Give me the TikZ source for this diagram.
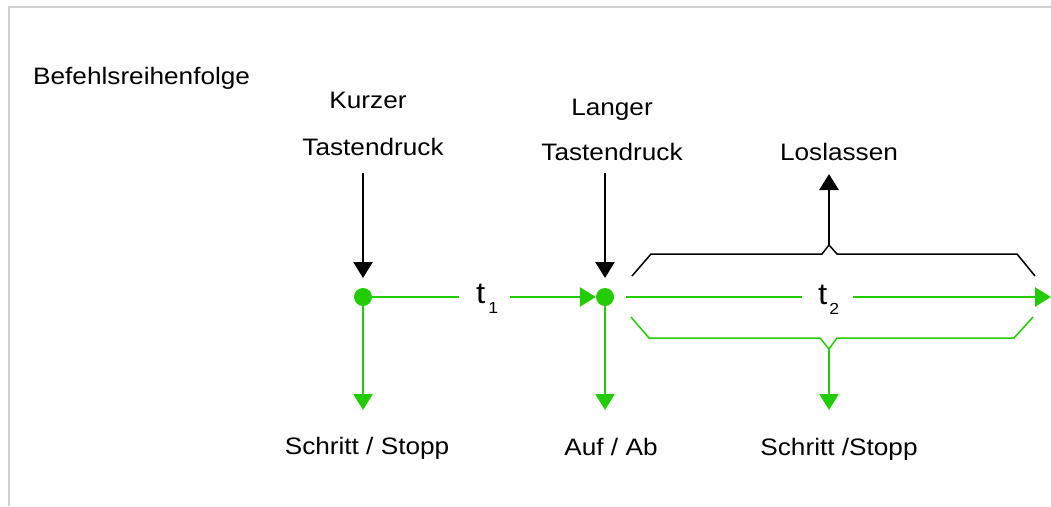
\documentclass[tikz,border=0pt]{standalone}
\usepackage{fontspec}
\setmainfont{Liberation Sans}[FakeStretch=1.1]
\usetikzlibrary{arrows.meta}
\definecolor{grn}{RGB}{34,204,0}
\definecolor{frame}{RGB}{208,208,208}
\tikzset{
  lbl/.style={inner sep=0pt, anchor=base, font=\fontsize{23.8}{26}\selectfont},
  dot/.style={circle, fill=grn, draw=none, minimum size=18pt, inner sep=0pt},
  blk/.style={line width=2.8pt, black, -{Triangle[length=16pt,width=19pt]}},
  grnarr/.style={line width=2.8pt, grn, -{Triangle[length=16pt,width=19pt]}},
  grnline/.style={line width=2.8pt, grn},
  brace/.style={line width=1.5pt, line join=miter},
  tlbl/.style={inner sep=0pt, anchor=base west, font=\fontsize{30}{32}\selectfont}
}
\begin{document}
\begin{tikzpicture}[x=1pt,y=-1pt]
\useasboundingbox (0,0) rectangle (1051,506);
\draw[frame, line width=2pt] (9,506) -- (9,7) -- (1051,7);

\node[lbl, anchor=base west] (title) at (33,84) {Befehlsreihenfolge};
\node[lbl] (kurzer) at (368,108) {Kurzer};
\node[lbl] (tast1) at (373,155) {Tastendruck};
\node[lbl] (langer) at (612,115) {Langer};
\node[lbl] (tast2) at (612,160) {Tastendruck};
\node[lbl] (los) at (839,160) {Loslassen};
\node[lbl] (out1) at (367,454) {Schritt / Stopp};
\node[lbl] (out2) at (611,455) {Auf / Ab};
\node[lbl] (out3) at (839,455) {Schritt /Stopp};

\node[tlbl] (t1) at (476,303) {t\kern3pt\raisebox{-10pt}{\fontsize{16}{16}\selectfont 1}};
\node[tlbl] (t2) at (818,304) {t\kern2pt\raisebox{-10pt}{\fontsize{16}{16}\selectfont 2}};

\node[dot] (d1) at (363,297) {};
\node[dot] (d2) at (605,297) {};

\coordinate (k1top) at (363,173);
\coordinate (k2top) at (605,173);
\coordinate (k1end) at (363,278);
\coordinate (k2end) at (605,278);
\draw[blk] (k1top) -- (k1end);
\draw[blk] (k2top) -- (k2end);

\coordinate (t1a) at (459,297);
\coordinate (t1b) at (510,297);
\draw[grnline] (d1) -- (t1a);
\draw[grnarr] (t1b) -- (d2);

\coordinate (t2s) at (626,297);
\coordinate (t2a) at (802,297);
\coordinate (t2b) at (853,297);
\coordinate (t2e) at (1051,297);
\draw[grnline] (t2s) -- (t2a);
\draw[grnarr] (t2b) -- (t2e);

% black brace
\coordinate (bpk) at (829,245);
\draw[brace] (632,276) -- (651,254) -- (822,254) -- (bpk) -- (837,254) -- (1017,254) -- (1035,276);
\coordinate (losend) at (829,174);
\draw[blk] (bpk) -- (losend);

% green brace
\coordinate (gpk) at (829,349);
\draw[brace, grn] (631,317) -- (649,338) -- (820,338) -- (gpk) -- (837,338) -- (1014,338) -- (1033,317);

\coordinate (o1) at (363,410);
\coordinate (o2) at (605,410);
\coordinate (o3) at (829,410);
\draw[grnarr] (d1) -- (o1);
\draw[grnarr] (d2) -- (o2);
\draw[grnarr] (gpk) -- (o3);
\end{tikzpicture}
\end{document}
